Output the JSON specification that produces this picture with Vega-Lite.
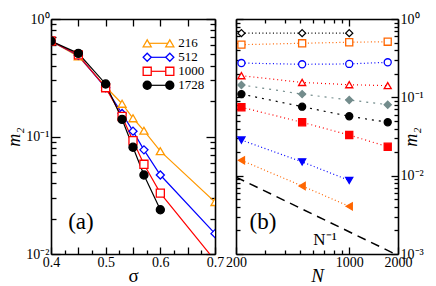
{
  "$schema": "https://vega.github.io/schema/vega-lite/v6.json",
  "padding": {"left": 5, "top": 12, "right": 2, "bottom": 2},
  "spacing": 1,
  "resolve": {"scale": {"color": "independent", "stroke": "independent", "fill": "independent", "shape": "independent", "strokeDash": "independent", "strokeWidth": "independent", "size": "independent", "fontStyle": "independent"}},
  "datasets": {
    "a": [
      {"N": "216", "sigma": 0.4, "m2": 0.65},
      {"N": "216", "sigma": 0.45, "m2": 0.48},
      {"N": "216", "sigma": 0.5, "m2": 0.265},
      {"N": "216", "sigma": 0.53, "m2": 0.19},
      {"N": "216", "sigma": 0.55, "m2": 0.143},
      {"N": "216", "sigma": 0.57, "m2": 0.112},
      {"N": "216", "sigma": 0.6, "m2": 0.075},
      {"N": "216", "sigma": 0.7, "m2": 0.0277},
      {"N": "512", "sigma": 0.4, "m2": 0.65},
      {"N": "512", "sigma": 0.45, "m2": 0.49},
      {"N": "512", "sigma": 0.5, "m2": 0.26},
      {"N": "512", "sigma": 0.53, "m2": 0.157},
      {"N": "512", "sigma": 0.55, "m2": 0.111},
      {"N": "512", "sigma": 0.57, "m2": 0.077},
      {"N": "512", "sigma": 0.6, "m2": 0.047},
      {"N": "512", "sigma": 0.7, "m2": 0.0149},
      {"N": "1000", "sigma": 0.4, "m2": 0.65},
      {"N": "1000", "sigma": 0.45, "m2": 0.495},
      {"N": "1000", "sigma": 0.5, "m2": 0.26},
      {"N": "1000", "sigma": 0.53, "m2": 0.148},
      {"N": "1000", "sigma": 0.55, "m2": 0.092},
      {"N": "1000", "sigma": 0.57, "m2": 0.058},
      {"N": "1000", "sigma": 0.6, "m2": 0.033},
      {"N": "1000", "sigma": 0.7, "m2": 0.0088},
      {"N": "1728", "sigma": 0.4, "m2": 0.65},
      {"N": "1728", "sigma": 0.45, "m2": 0.51},
      {"N": "1728", "sigma": 0.5, "m2": 0.28},
      {"N": "1728", "sigma": 0.53, "m2": 0.14},
      {"N": "1728", "sigma": 0.55, "m2": 0.081},
      {"N": "1728", "sigma": 0.57, "m2": 0.047},
      {"N": "1728", "sigma": 0.6, "m2": 0.0238}
    ],
    "legendA": [
      {"N": "216", "end": 0},
      {"N": "216", "end": 1},
      {"N": "512", "end": 0},
      {"N": "512", "end": 1},
      {"N": "1000", "end": 0},
      {"N": "1000", "end": 1},
      {"N": "1728", "end": 0},
      {"N": "1728", "end": 1}
    ],
    "b": [
      {"s": "s1", "N": 216, "m2": 0.66},
      {"s": "s1", "N": 512, "m2": 0.66},
      {"s": "s1", "N": 1000, "m2": 0.66},
      {"s": "s2", "N": 216, "m2": 0.47},
      {"s": "s2", "N": 512, "m2": 0.49},
      {"s": "s2", "N": 1000, "m2": 0.505},
      {"s": "s2", "N": 1728, "m2": 0.513},
      {"s": "s3", "N": 216, "m2": 0.274},
      {"s": "s3", "N": 512, "m2": 0.264},
      {"s": "s3", "N": 1000, "m2": 0.267},
      {"s": "s3", "N": 1728, "m2": 0.28},
      {"s": "s4", "N": 216, "m2": 0.189},
      {"s": "s4", "N": 512, "m2": 0.155},
      {"s": "s4", "N": 1000, "m2": 0.145},
      {"s": "s4", "N": 1728, "m2": 0.141},
      {"s": "s5", "N": 216, "m2": 0.144},
      {"s": "s5", "N": 512, "m2": 0.11},
      {"s": "s5", "N": 1000, "m2": 0.0925},
      {"s": "s5", "N": 1728, "m2": 0.0806},
      {"s": "s6", "N": 216, "m2": 0.11},
      {"s": "s6", "N": 512, "m2": 0.076},
      {"s": "s6", "N": 1000, "m2": 0.0573},
      {"s": "s6", "N": 1728, "m2": 0.048},
      {"s": "s7", "N": 216, "m2": 0.0747},
      {"s": "s7", "N": 512, "m2": 0.048},
      {"s": "s7", "N": 1000, "m2": 0.033},
      {"s": "s7", "N": 1728, "m2": 0.0234},
      {"s": "s8", "N": 216, "m2": 0.0285},
      {"s": "s8", "N": 512, "m2": 0.015},
      {"s": "s8", "N": 1000, "m2": 0.0087},
      {"s": "s9", "N": 216, "m2": 0.0157},
      {"s": "s9", "N": 512, "m2": 0.00738},
      {"s": "s9", "N": 1000, "m2": 0.00406}
    ],
    "guide": [
      {"N": 200, "m2": 0.0096},
      {"N": 2000, "m2": 0.00096}
    ],
    "labelsA": [
      {"t": "(a)", "sigma": 0.4548, "m2": 0.0187}
    ],
    "labelsB": [
      {"t": "(b)", "N": 293.6, "m2": 0.00256, "it": "normal", "fs": "big"},
      {"t": "N⁻¹", "N": 709, "m2": 0.00151, "it": "italic", "fs": "small"}
    ]
  },
  "hconcat": [
    {
      "width": 164,
      "height": 235,
      "layer": [
        {
          "data": {"name": "a"},
          "mark": {"type": "line", "clip": true, "strokeWidth": 1.2},
          "encoding": {
            "x": {
              "field": "sigma", "type": "quantitative",
              "scale": {"domain": [0.4, 0.7], "nice": false, "zero": false},
              "axis": {
                "orient": "bottom",
                "values": [0.4, 0.425, 0.45, 0.475, 0.5, 0.525, 0.55, 0.575, 0.6, 0.625, 0.65, 0.675, 0.7],
                "tickSize": -7,
                "tickDash": {"condition": {"test": "abs(datum.value*20-round(datum.value*20))>0.01", "value": [4, 30]}, "value": [10, 0]},
                "labelExpr": "abs(datum.value*10-round(datum.value*10))<0.01 ? format(datum.value,'.1f') : ''",
                "labelPadding": 8,
                "title": "σ",
                "titleFontSize": 19,
                "titlePadding": -3
              }
            },
            "y": {
              "field": "m2", "type": "quantitative",
              "scale": {"type": "log", "domain": [0.01, 1], "nice": false},
              "axis": {
                "orient": "left",
                "values": [0.01, 0.02, 0.03, 0.04, 0.05, 0.06, 0.07, 0.08, 0.09, 0.1, 0.2, 0.3, 0.4, 0.5, 0.6, 0.7, 0.8, 0.9, 1],
                "tickSize": -9,
                "tickDash": {"condition": {"test": "!(datum.value==1||datum.value==0.1||datum.value==0.01)", "value": [5, 30]}, "value": [10, 0]},
                "labelExpr": "datum.value==1 ? '10⁰' : datum.value==0.1 ? '10⁻¹' : datum.value==0.01 ? '10⁻²' : ''",
                "labelPadding": 11,
                "title": "m₂",
                "titleFontSize": 18,
                "titleFontStyle": "italic",
                "titlePadding": 2
              }
            },
            "color": {
              "field": "N", "type": "nominal",
              "scale": {"domain": ["216", "512", "1000", "1728"], "range": ["#FF9900", "#0000FF", "#FF0000", "#000000"]},
              "legend": null
            }
          }
        },
        {
          "data": {"name": "a"},
          "mark": {"type": "point", "clip": true, "opacity": 1, "strokeWidth": 1.3, "size": 65},
          "encoding": {
            "x": {
              "field": "sigma", "type": "quantitative",
              "scale": {"domain": [0.4, 0.7], "nice": false, "zero": false},
              "axis": {
                "orient": "top",
                "values": [0.4, 0.45, 0.5, 0.55, 0.6, 0.65, 0.7],
                "tickSize": -7,
                "labels": false,
                "title": null
              }
            },
            "y": {
              "field": "m2", "type": "quantitative",
              "scale": {"type": "log", "domain": [0.01, 1], "nice": false},
              "axis": {
                "orient": "right",
                "values": [0.01, 0.02, 0.03, 0.04, 0.05, 0.06, 0.07, 0.08, 0.09, 0.1, 0.2, 0.3, 0.4, 0.5, 0.6, 0.7, 0.8, 0.9, 1],
                "tickSize": -9,
                "tickDash": {"condition": {"test": "!(datum.value==1||datum.value==0.1||datum.value==0.01)", "value": [5, 30]}, "value": [10, 0]},
                "labels": false,
                "title": null
              }
            },
            "stroke": {
              "field": "N", "type": "nominal",
              "scale": {"domain": ["216", "512", "1000", "1728"], "range": ["#FF9900", "#0000FF", "#FF0000", "#000000"]},
              "legend": null
            },
            "fill": {
              "field": "N", "type": "nominal",
              "scale": {"domain": ["216", "512", "1000", "1728"], "range": ["white", "white", "white", "black"]},
              "legend": null
            },
            "shape": {
              "field": "N", "type": "nominal",
              "scale": {"domain": ["216", "512", "1000", "1728"], "range": ["triangle-up", "diamond", "square", "circle"]},
              "legend": null
            }
          }
        },
        {
          "data": {"name": "labelsA"},
          "mark": {"type": "text", "fontSize": 23, "align": "center", "baseline": "middle", "color": "black"},
          "encoding": {
            "x": {"field": "sigma", "type": "quantitative", "scale": {"domain": [0.4, 0.7], "nice": false, "zero": false}, "axis": null},
            "y": {"field": "m2", "type": "quantitative", "scale": {"type": "log", "domain": [0.01, 1], "nice": false}, "axis": null},
            "text": {"field": "t"}
          }
        },
        {
          "data": {"name": "legendA"},
          "encoding": {
            "x": {"field": "end", "type": "quantitative", "scale": {"domain": [0, 1], "range": [96.2, 118.8], "nice": false, "zero": false}, "axis": null},
            "y": {"field": "N", "type": "nominal", "sort": ["216", "512", "1000", "1728"], "scale": {"type": "point", "domain": ["216", "512", "1000", "1728"], "range": [24.3, 66.3], "padding": 0}, "axis": null}
          },
          "layer": [
            {
              "mark": {"type": "line", "strokeWidth": 1.2},
              "encoding": {
                "color": {"field": "N", "type": "nominal", "legend": null}
              }
            },
            {
              "mark": {"type": "point", "opacity": 1, "strokeWidth": 1.3, "size": 65},
              "encoding": {
                "stroke": {"field": "N", "type": "nominal", "legend": null},
                "fill": {"field": "N", "type": "nominal", "legend": null},
                "shape": {"field": "N", "type": "nominal", "legend": null}
              }
            },
            {
              "transform": [{"filter": "datum.end == 1"}],
              "mark": {"type": "text", "align": "left", "baseline": "middle", "dx": 8.5, "fontSize": 13, "color": "black"},
              "encoding": {
                "text": {"field": "N"}
              }
            }
          ]
        }
      ],
      "resolve": {"axis": {"x": "independent", "y": "independent"}, "scale": {"x": "independent", "y": "independent"}}
    },
    {
      "width": 162,
      "height": 235,
      "layer": [
        {
          "data": {"name": "b"},
          "mark": {"type": "line", "clip": true},
          "encoding": {
            "x": {
              "field": "N", "type": "quantitative",
              "scale": {"type": "log", "domain": [200, 2000], "nice": false},
              "axis": {
                "orient": "bottom",
                "values": [200, 300, 400, 500, 600, 700, 800, 900, 1000, 2000],
                "tickSize": -7,
                "tickDash": {"condition": {"test": "!(datum.value==200||datum.value==1000||datum.value==2000)", "value": [4, 30]}, "value": [10, 0]},
                "labelExpr": "(datum.value==200||datum.value==1000||datum.value==2000) ? format(datum.value,'d') : ''",
                "labelPadding": 8,
                "title": "N",
                "titleFontSize": 19,
                "titleFontStyle": "italic",
                "titlePadding": -3
              }
            },
            "y": {
              "field": "m2", "type": "quantitative",
              "scale": {"type": "log", "domain": [0.001, 1], "nice": false},
              "axis": {
                "orient": "left",
                "values": [0.001, 0.002, 0.003, 0.004, 0.005, 0.006, 0.007, 0.008, 0.009, 0.01, 0.02, 0.03, 0.04, 0.05, 0.06, 0.07, 0.08, 0.09, 0.1, 0.2, 0.3, 0.4, 0.5, 0.6, 0.7, 0.8, 0.9, 1],
                "tickSize": -7,
                "tickDash": {"condition": {"test": "!(datum.value==1||datum.value==0.1||datum.value==0.01||datum.value==0.001)", "value": [4, 30]}, "value": [10, 0]},
                "labels": false,
                "title": null
              }
            },
            "color": {
              "field": "s", "type": "nominal",
              "scale": {"domain": ["s1", "s2", "s3", "s4", "s5", "s6", "s7", "s8", "s9"], "range": ["#000000", "#FF6600", "#0000FF", "#FF0000", "#738C8C", "#000000", "#FF0000", "#0000FF", "#FF6600"]},
              "legend": null
            },
            "strokeDash": {
              "field": "s", "type": "nominal",
              "scale": {"domain": ["s1", "s2", "s3", "s4", "s5", "s6", "s7", "s8", "s9"], "range": [[1, 2.5], [1, 2.5], [1, 2.5], [1, 3], [2, 5], [2, 5], [1, 3], [1, 2.5], [1, 2.5]]},
              "legend": null
            },
            "strokeWidth": {
              "field": "s", "type": "nominal",
              "scale": {"domain": ["s1", "s2", "s3", "s4", "s5", "s6", "s7", "s8", "s9"], "range": [1.2, 1.2, 1.2, 1.2, 2.2, 2.2, 1.2, 1.2, 1.2]},
              "legend": null
            }
          }
        },
        {
          "data": {"name": "b"},
          "mark": {"type": "point", "clip": true, "opacity": 1, "strokeWidth": 1.3, "size": 50},
          "encoding": {
            "x": {
              "field": "N", "type": "quantitative",
              "axis": {
                "orient": "top",
                "values": [200, 300, 400, 500, 600, 700, 800, 900, 1000, 2000],
                "tickSize": -7,
                "tickDash": {"condition": {"test": "!(datum.value==200||datum.value==1000||datum.value==2000)", "value": [4, 30]}, "value": [10, 0]},
                "labels": false,
                "title": null
              }
            },
            "y": {
              "field": "m2", "type": "quantitative",
              "axis": {
                "orient": "right",
                "values": [0.001, 0.002, 0.003, 0.004, 0.005, 0.006, 0.007, 0.008, 0.009, 0.01, 0.02, 0.03, 0.04, 0.05, 0.06, 0.07, 0.08, 0.09, 0.1, 0.2, 0.3, 0.4, 0.5, 0.6, 0.7, 0.8, 0.9, 1],
                "tickSize": -7,
                "tickDash": {"condition": {"test": "!(datum.value==1||datum.value==0.1||datum.value==0.01||datum.value==0.001)", "value": [4, 30]}, "value": [10, 0]},
                "labelExpr": "datum.value==1 ? '10⁰' : datum.value==0.1 ? '10⁻¹' : datum.value==0.01 ? '10⁻²' : datum.value==0.001 ? '10⁻³' : ''",
                "labelPadding": 9,
                "title": "m₂",
                "titleFontSize": 18,
                "titleFontStyle": "italic",
                "titleAngle": 270,
                "titlePadding": -3
              }
            },
            "stroke": {
              "field": "s", "type": "nominal",
              "scale": {"domain": ["s1", "s2", "s3", "s4", "s5", "s6", "s7", "s8", "s9"], "range": ["#000000", "#FF6600", "#0000FF", "#FF0000", "#738C8C", "#000000", "#FF0000", "#0000FF", "#FF6600"]},
              "legend": null
            },
            "fill": {
              "field": "s", "type": "nominal",
              "scale": {"domain": ["s1", "s2", "s3", "s4", "s5", "s6", "s7", "s8", "s9"], "range": ["white", "white", "white", "white", "#738C8C", "#000000", "#FF0000", "#0000FF", "#FF6600"]},
              "legend": null
            },
            "shape": {
              "field": "s", "type": "nominal",
              "scale": {"domain": ["s1", "s2", "s3", "s4", "s5", "s6", "s7", "s8", "s9"], "range": ["diamond", "square", "circle", "triangle-up", "diamond", "circle", "square", "triangle-down", "triangle-left"]},
              "legend": null
            }
          }
        },
        {
          "data": {"name": "guide"},
          "mark": {"type": "line", "clip": true, "color": "black", "strokeWidth": 1.5, "strokeDash": [9, 6]},
          "encoding": {
            "x": {"field": "N", "type": "quantitative", "axis": null},
            "y": {"field": "m2", "type": "quantitative", "axis": null}
          }
        },
        {
          "data": {"name": "labelsB"},
          "mark": {"type": "text", "align": "center", "baseline": "middle", "color": "black"},
          "encoding": {
            "x": {"field": "N", "type": "quantitative", "axis": null},
            "y": {"field": "m2", "type": "quantitative", "axis": null},
            "text": {"field": "t"},
            "fontStyle": {"field": "it", "type": "nominal", "scale": {"domain": ["normal", "italic"], "range": ["normal", "italic"]}, "legend": null},
            "size": {"field": "fs", "type": "nominal", "scale": {"domain": ["big", "small"], "range": [23, 17]}, "legend": null}
          }
        }
      ],
      "resolve": {"axis": {"x": "independent", "y": "independent"}}
    }
  ],
  "config": {
    "view": {"stroke": null},
    "font": "Liberation Serif",
    "text": {"font": "Liberation Serif"},
    "axis": {
      "domainColor": "black",
      "domainWidth": 1.6,
      "tickColor": "black",
      "tickWidth": 1.3,
      "labelColor": "black",
      "labelFont": "Liberation Serif",
      "labelFontSize": 14,
      "titleFont": "Liberation Serif",
      "titleColor": "black",
      "titleFontWeight": "normal",
      "grid": false,
      "labelOverlap": false,
      "labelFlush": false,
      "labelBound": false
    }
  }
}
